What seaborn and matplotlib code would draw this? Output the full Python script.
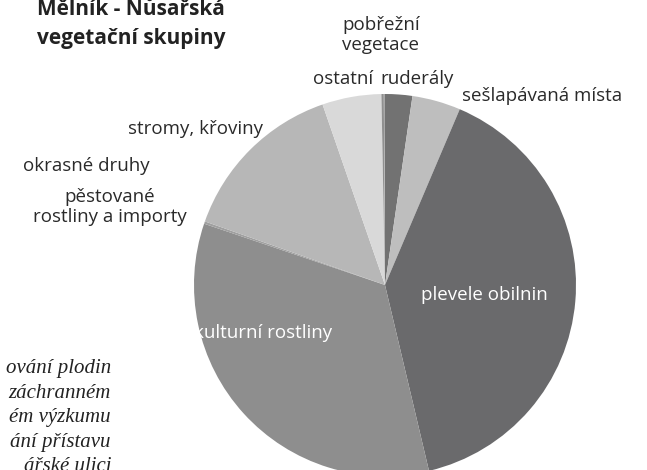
import matplotlib
matplotlib.use("Agg")
import matplotlib.pyplot as plt
import seaborn as sns

# podíly skupin (%), ve směru hodinových ručiček od 12 hodin
skupiny = ["ruderály", "sešlapávaná místa", "plevele obilnin", "kulturní rostliny",
           "pěstované\nrostliny a importy", "okrasné druhy", "stromy, křoviny",
           "pobřežní\nvegetace", "ostatní"]
podily = [2.3, 4.1, 39.9, 33.9, 0.2, 14.3, 5.0, 0.2, 0.1]

barvy = ["#727272", "#bebebe", "#6a6a6c", "#8e8e8e", "#a0a0a0",
         "#b7b7b7", "#d9d9d9", "#909090", "#a8a8a8"]

# umístění popisků v pixelech (x, y, zarovnání, barva)
popisky_pos = [
    (417, 79, "center", "#2a2a2a"),
    (462, 96, "left", "#2a2a2a"),
    (484, 295, "center", "white"),
    (263, 333, "center", "white"),
    (110, 207, "center", "#2a2a2a"),
    (23, 166, "left", "#2a2a2a"),
    (263, 129, "right", "#2a2a2a"),
    (381, 35, "center", "#2a2a2a"),
    (343, 79, "center", "#2a2a2a"),
]

# okolní text stránky (viditelné části řádků)
text_radku = ["ování plodin", "záchranném", "ém výzkumu",
              "ání přístavu", "ářské ulici"]

sns.set_theme(style="white")
plt.rcParams["font.family"] = ["Open Sans", "DejaVu Sans"]

fig = plt.figure(figsize=(6.47, 4.70), dpi=100)
ax = fig.add_axes([0, 0, 1, 1])

wedges, texts = ax.pie(podily, labels=skupiny, colors=barvy, center=(385, 285),
                       radius=191, startangle=-90, counterclock=True,
                       wedgeprops=dict(linewidth=0), textprops=dict(fontsize=13.5))

for t, (x, y, ha, c) in zip(texts, popisky_pos):
    t.set_position((x, y))
    t.set_horizontalalignment(ha)
    t.set_verticalalignment("center")
    t.set_multialignment("center")
    t.set_color(c)
    t.set_linespacing(1.12)

ax.set_xlim(0, 647)
ax.set_ylim(470, 0)
ax.set_aspect("auto")
ax.axis("off")

# nadpis
ax.text(37, 15, "Mělník - Nůsařská", fontsize=15, fontweight="bold",
        color="#222222", ha="left", va="baseline")
ax.text(37, 44, "vegetační skupiny", fontsize=15, fontweight="bold",
        color="#222222", ha="left", va="baseline")

for i, r in enumerate(text_radku):
    ax.text(111, 373 + i * 24.5, r, fontsize=15, style="italic",
            family=["Liberation Serif", "DejaVu Serif"], color="#222222",
            ha="right", va="baseline")

fig.savefig("out.png", dpi=100)
